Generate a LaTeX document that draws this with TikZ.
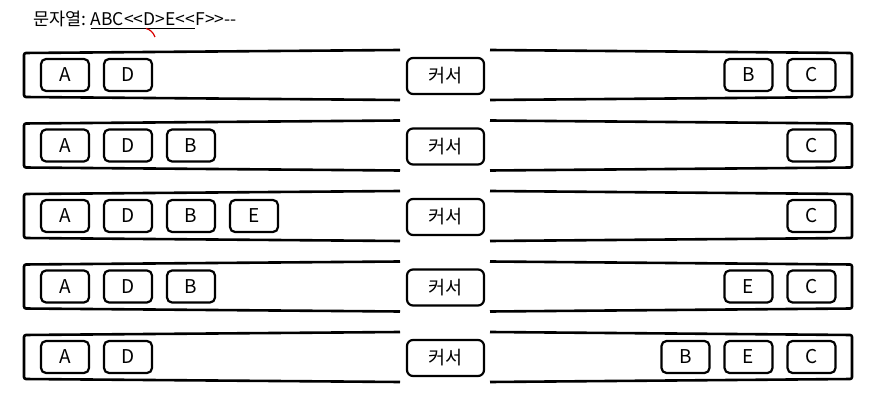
\documentclass[tikz,border=0pt]{standalone}
\usepackage{fontspec}
\newfontfamily\kr{Noto Sans CJK KR}
\begin{document}
\begin{tikzpicture}[x=1pt,y=-1pt,
  cell/.style={draw, line width=2.2pt, rounded corners=5pt, minimum width=48pt, minimum height=32pt, inner sep=0pt, font=\kr\fontsize{19}{19}\selectfont},
  curbox/.style={draw, line width=2.2pt, rounded corners=6pt, minimum width=77pt, minimum height=36pt, inner sep=0pt, font=\kr\fontsize{18.5}{18.5}\selectfont},
  tube/.style={line width=2.6pt, rounded corners=2pt},
  title/.style={anchor=base west, inner sep=0pt, font=\kr\fontsize{17.5}{17.5}\selectfont}]
\useasboundingbox (0,0) rectangle (878,403);
% title
\node[title] (lbl) at (33,26) {문자열:};
\node[title, xshift=4pt] (ul) at (lbl.base east) {ABC<<D>E<<};
\node[title] (rest) at (ul.base east) {F>>-{}-};
\draw[line width=1pt] ([yshift=-2.5pt]ul.base west) -- ([yshift=-2.5pt]ul.base east);
\draw[red!85!black, line width=1.2pt] (146,28.5) .. controls (150,29.5) and (153,32) .. (155,37);
% rows
\foreach \r/\y in {1/75,2/145.5,3/216,4/286.5,5/357}{
  \draw[tube] (400,\y-25) -- (24,\y-22) -- (24,\y+22) -- (400,\y+25);
  \draw[tube] (490,\y-25) -- (852,\y-22) -- (852,\y+22) -- (490,\y+25);
  \node[curbox] (cur\r) at (445.5,\y+1) {커서};
}
% row 1
\node[cell] (a1) at (65,75) {A};
\node[cell] (d1) at (128,75) {D};
\node[cell] (b1r) at (748.5,75) {B};
\node[cell] (c1r) at (811.5,75) {C};
% row 2
\node[cell] (a2) at (65,145.5) {A};
\node[cell] (d2) at (128,145.5) {D};
\node[cell] (b2) at (191,145.5) {B};
\node[cell] (c2r) at (811.5,145.5) {C};
% row 3
\node[cell] (a3) at (65,216) {A};
\node[cell] (d3) at (128,216) {D};
\node[cell] (b3) at (191,216) {B};
\node[cell] (e3) at (254,216) {E};
\node[cell] (c3r) at (811.5,216) {C};
% row 4
\node[cell] (a4) at (65,286.5) {A};
\node[cell] (d4) at (128,286.5) {D};
\node[cell] (b4) at (191,286.5) {B};
\node[cell] (e4r) at (748.5,286.5) {E};
\node[cell] (c4r) at (811.5,286.5) {C};
% row 5
\node[cell] (a5) at (65,357) {A};
\node[cell] (d5) at (128,357) {D};
\node[cell] (b5r) at (685.5,357) {B};
\node[cell] (e5r) at (748.5,357) {E};
\node[cell] (c5r) at (811.5,357) {C};
\end{tikzpicture}
\end{document}
